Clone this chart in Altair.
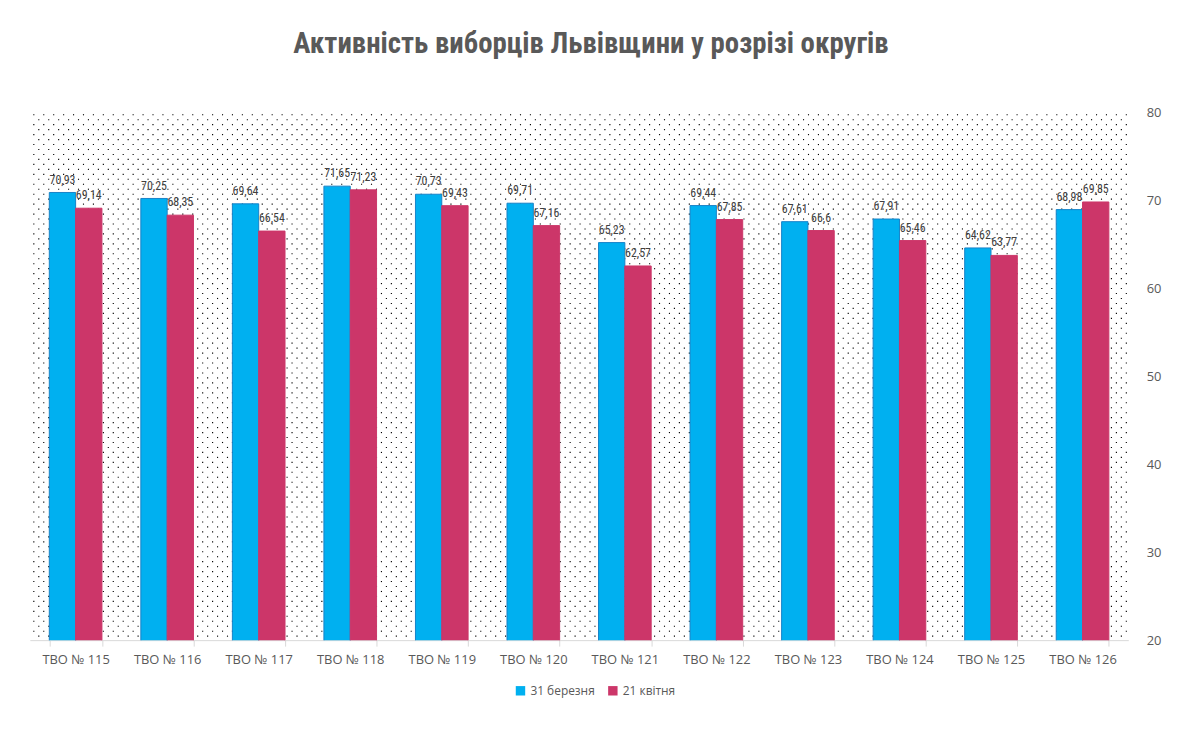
import pandas as pd
import altair as alt

# Дані з діаграми
okrugy = ["ТВО № 115", "ТВО № 116", "ТВО № 117", "ТВО № 118", "ТВО № 119", "ТВО № 120",
          "ТВО № 121", "ТВО № 122", "ТВО № 123", "ТВО № 124", "ТВО № 125", "ТВО № 126"]
berezen = [70.93, 70.25, 69.64, 71.65, 70.73, 69.71, 65.23, 69.44, 67.61, 67.91, 64.62, 68.98]
kviten = [69.14, 68.35, 66.54, 71.23, 69.43, 67.16, 62.57, 67.85, 66.6, 65.46, 63.77, 69.85]
series = ["31 березня", "21 квітня"]
colors = ["#00b0f0", "#cc3669"]
strokes = ["#1682c8", "#cc3669"]

W, H = 1106, 531
GRAY = "#595959"
NARROW = "'Arial Narrow', 'Liberation Sans Narrow', 'Roboto Condensed', 'DejaVu Sans Condensed', sans-serif"

rows = []
for i, o in enumerate(okrugy):
    rows.append({"okrug": o, "series": series[0], "value": berezen[i]})
    rows.append({"okrug": o, "series": series[1], "value": kviten[i]})
df = pd.DataFrame(rows)

# точковий фон (візерунок як в Excel)
n_cols, n_rows = W // 10 + 1, H // 5 + 1
dots = alt.Chart(alt.sequence(0, n_cols * n_rows, as_="i")).transform_calculate(
    r="floor(datum.i / %d)" % n_cols,
    c="datum.i %% %d" % n_cols,
).transform_calculate(
    px="datum.c * 10 + (datum.r % 2) * 5 + 4",
    py="datum.r * 5 + 2",
).transform_filter(
    "datum.px < %d && datum.py < %d" % (W, H)
).mark_square(size=1.3, color="#000000", opacity=1).encode(
    x=alt.X("px:Q", scale=alt.Scale(domain=[0, W]), axis=None),
    y=alt.Y("py:Q", scale=alt.Scale(domain=[H, 0]), axis=None),
)

base = alt.Chart(df).encode(
    x=alt.X("okrug:N", sort=okrugy, title=None,
            scale=alt.Scale(paddingInner=0.425, paddingOuter=0.2125),
            axis=alt.Axis(labelAngle=0, labelColor=GRAY, labelFontSize=13,
                          labelFont="Open Sans", tickBand="extent", domainColor="#d9d9d9",
                          tickColor="#d9d9d9", tickSize=6, labelPadding=8, grid=False)),
    xOffset=alt.XOffset("series:N", sort=series),
    y=alt.Y("value:Q", title=None,
            scale=alt.Scale(domain=[20, 80], nice=False, zero=False),
            axis=alt.Axis(orient="right", values=[20, 30, 40, 50, 60, 70, 80], domain=False,
                          ticks=False, labelColor=GRAY, labelFontSize=13, labelFont="Open Sans",
                          labelPadding=18, gridColor="#d9d9d9")),
)

bars = base.mark_bar(strokeWidth=1, clip=True).encode(
    color=alt.Color("series:N", sort=series, title=None,
                    scale=alt.Scale(domain=series, range=colors),
                    legend=alt.Legend(orient="none", legendX=488, legendY=576, direction="horizontal",
                                      symbolType="square", symbolSize=90, symbolStrokeWidth=0,
                                      labelColor=GRAY, labelFontSize=12, labelFont="Open Sans",
                                      columnPadding=12)),
    stroke=alt.Stroke("series:N", sort=series, scale=alt.Scale(domain=series, range=strokes),
                      legend=None),
)

labels = base.transform_calculate(
    label="replace(toString(datum.value), '.', ',')"
).mark_text(dy=-13, fontSize=12, font=NARROW, color="#404040").encode(
    text="label:N"
)

chart = alt.layer(dots, bars + labels).resolve_scale(
    x="independent", y="independent"
).properties(
    width=W,
    height=H,
    title=alt.TitleParams("Активність виборців Львівщини у розрізі округів", fontSize=29,
                          font=NARROW, fontWeight="bold", color=GRAY,
                          anchor="middle", offset=48, dx=12),
    autosize=alt.AutoSizeParams(type="none"),
    padding={"left": 22, "top": 103, "right": 46, "bottom": 88},
).configure_view(stroke=None)

chart.save("out.html", embed_options={"renderer": "svg", "actions": False})
